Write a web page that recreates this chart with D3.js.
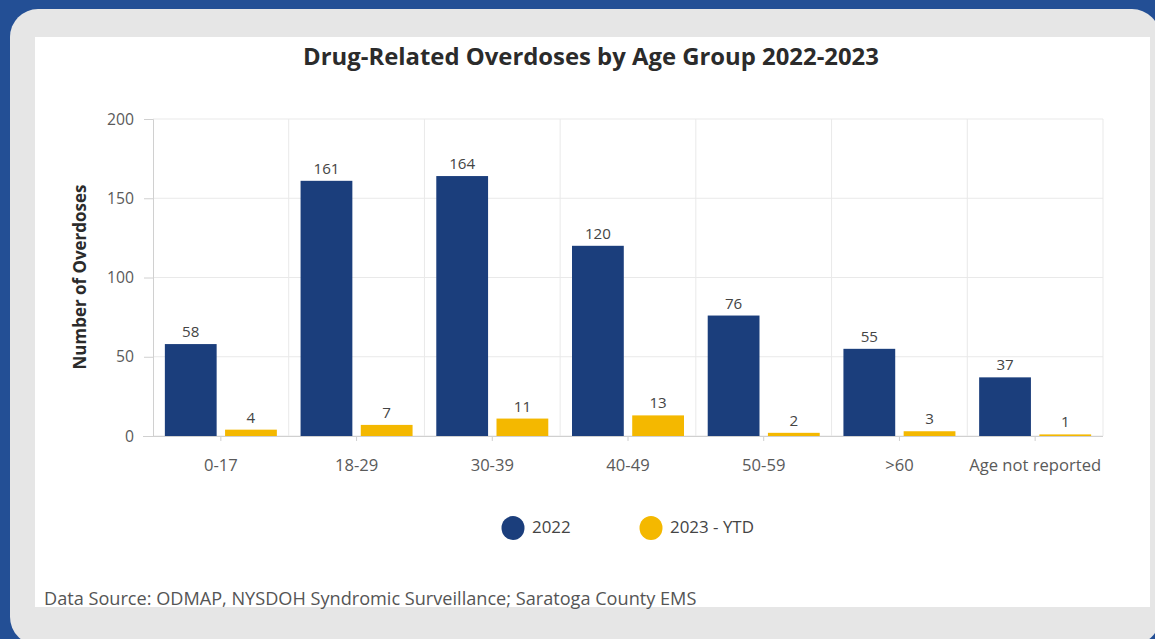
<!DOCTYPE html>
<html>
<head>
<meta charset="utf-8">
<script src="https://cdn.jsdelivr.net/npm/d3@7"></script>
<style>
html,body{margin:0;padding:0;background:#234f95;}
svg{display:block;}
text{font-family:"Open Sans",Lato,sans-serif;}
</style>
</head>
<body>
<svg id="chart" width="1155" height="639"></svg>
<script>
const categories = ["0-17","18-29","30-39","40-49","50-59",">60","Age not reported"];
const series2022 = [58,161,164,120,76,55,37];
const series2023 = [4,7,11,13,2,3,1];
const seriesNames = ["2022","2023 - YTD"];
const seriesColors = ["#1b3e7c","#f4b800"];
const yTicks = [0,50,100,150,200];
const title = "Drug-Related Overdoses by Age Group 2022-2023";
const yTitle = "Number of Overdoses";
const footer = "Data Source: ODMAP, NYSDOH Syndromic Surveillance; Saratoga County EMS";

const FONT = '"Open Sans",Lato,sans-serif';
const svg = d3.select("#chart");

// scale a text's font size so that its rendered width matches a target width
function fitSize(sel, target){
  const w = sel.node().getComputedTextLength();
  const fs = parseFloat(sel.style("font-size"));
  return fs * target / w;
}

// background panel
svg.append("rect").attr("x",0).attr("y",0).attr("width",1155).attr("height",639).attr("fill","#234f95");
svg.append("rect").attr("x",10).attr("y",9).attr("width",1150).attr("height",636).attr("rx",28).attr("fill","#e6e6e6");
svg.append("rect").attr("x",35).attr("y",37).attr("width",1115).attr("height",570).attr("fill","#ffffff");

const pLeft = 153, pRight = 1103, pTop = 119, pBottom = 436;

const x = d3.scaleBand().domain(categories).range([pLeft,pRight]).padding(0);
const y = d3.scaleLinear().domain([0,200]).range([pBottom,pTop]);
const xs = d3.scaleBand().domain(seriesNames).range([0,112]).paddingInner(0.14);

const g = svg.append("g");

// horizontal gridlines
g.append("g").selectAll("line").data(yTicks).join("line")
  .attr("x1",pLeft).attr("x2",pRight)
  .attr("y1",d=>y(d)).attr("y2",d=>y(d))
  .attr("stroke","#e9e9e9").attr("stroke-width",1);

// vertical gridlines at band boundaries
const bounds = categories.map(c=>x(c)+x.bandwidth());
g.append("g").selectAll("line").data(bounds).join("line")
  .attr("x1",d=>d).attr("x2",d=>d)
  .attr("y1",pTop).attr("y2",pBottom)
  .attr("stroke","#e9e9e9").attr("stroke-width",1);

// y axis
const yAxis = d3.axisLeft(y).tickValues(yTicks).tickSize(9).tickPadding(10);
const ya = svg.append("g").attr("transform",`translate(${pLeft},0)`).call(yAxis);
ya.select(".domain").attr("stroke","#d0d0d0");
ya.selectAll(".tick line").attr("stroke","#d0d0d0");
const yt = ya.selectAll(".tick text").attr("fill","#5a5a5a").style("font-size","13px").style("font-family",FONT);
const ySize = fitSize(ya.selectAll(".tick text").filter(d=>d===200), 27);
yt.style("font-size", ySize+"px");

// x axis
const xAxis = d3.axisBottom(x).tickSize(5).tickPadding(18).tickSizeOuter(0);
const xa = svg.append("g").attr("transform",`translate(0,${pBottom})`).call(xAxis);
xa.select(".domain").attr("stroke","#d0d0d0").attr("d",`M${pLeft-10},0.5H${pRight}`);
xa.selectAll(".tick line").attr("stroke","#d0d0d0");
const xt = xa.selectAll(".tick text").attr("fill","#5a5a5a").style("font-size","13px").style("font-family",FONT);
const xSize = fitSize(xa.selectAll(".tick text").filter(d=>d==="Age not reported"), 132);
xt.style("font-size", xSize+"px");

// bars
const rows = categories.map((c,i)=>({cat:c, vals:[series2022[i],series2023[i]]}));
const groupOffset = (x.bandwidth()-112)/2;
const grp = svg.append("g").selectAll("g").data(rows).join("g")
  .attr("transform",d=>`translate(${x(d.cat)+groupOffset},0)`);
grp.selectAll("rect").data(d=>d.vals.map((v,j)=>({v,s:seriesNames[j],c:seriesColors[j]}))).join("rect")
  .attr("x",d=>xs(d.s)).attr("width",xs.bandwidth())
  .attr("y",d=>y(d.v)).attr("height",d=>pBottom-y(d.v))
  .attr("fill",d=>d.c);
const vl = grp.selectAll("text").data(d=>d.vals.map((v,j)=>({v,s:seriesNames[j]}))).join("text")
  .attr("x",d=>xs(d.s)+xs.bandwidth()/2).attr("y",d=>y(d.v)-7)
  .attr("text-anchor","middle").attr("fill","#444").style("font-size","12.5px").style("font-family",FONT)
  .text(d=>d.v);
const vSize = fitSize(vl.filter(d=>d.v===161), 26);
vl.style("font-size", vSize+"px");

// title
const tt = svg.append("text").attr("x",591).attr("y",65).attr("text-anchor","middle")
  .attr("fill","#2b2b2b").style("font-size","20px").style("font-weight","bold").text(title);
tt.style("font-size", fitSize(tt,576)+"px");

// y title
const ytt = svg.append("text").attr("transform","translate(86,277) rotate(-90)").attr("text-anchor","middle")
  .attr("fill","#2b2b2b").style("font-size","14px").style("font-weight","bold").text(yTitle);
ytt.style("font-size", fitSize(ytt,185)+"px");

// legend
const legX = [513,651];
const leg = svg.append("g").selectAll("g").data(seriesNames).join("g")
  .attr("transform",(d,i)=>`translate(${legX[i]},528)`);
leg.append("ellipse").attr("rx",11.5).attr("ry",12).attr("fill",(d,i)=>seriesColors[i]);
const lt = leg.append("text").attr("x",19).attr("y",5).attr("fill","#444").style("font-size","13.5px").text(d=>d);
const lSize = fitSize(lt.filter(d=>d==="2023 - YTD"), 84);
lt.style("font-size", lSize+"px");

// footer
const ft = svg.append("text").attr("x",44).attr("y",605).attr("fill","#555").style("font-size","15px").text(footer);
ft.style("font-size", fitSize(ft,653)+"px");
</script>
</body>
</html>
